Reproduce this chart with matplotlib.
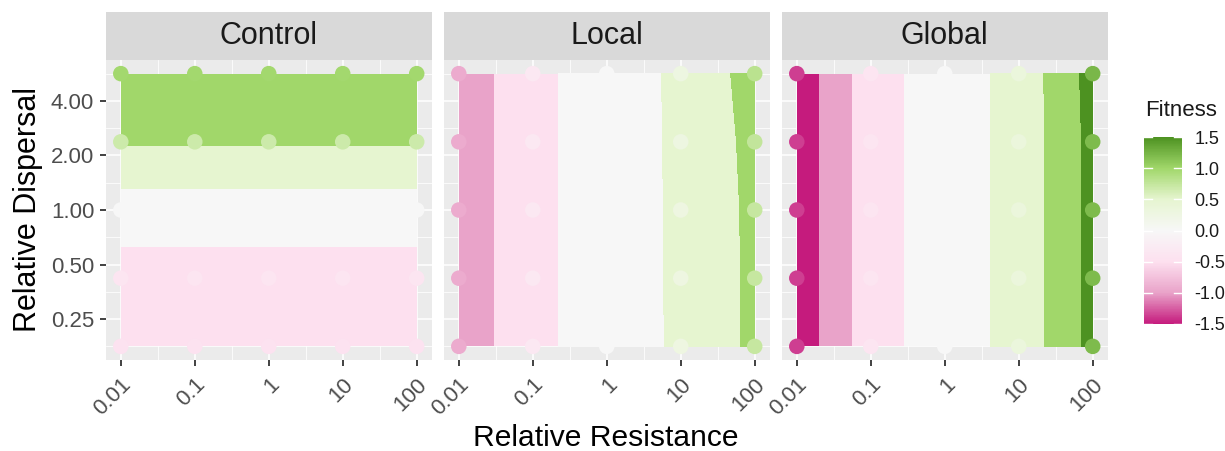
import numpy as np
import matplotlib
matplotlib.use('Agg')
import matplotlib.pyplot as plt
from matplotlib.colors import LinearSegmentedColormap, Normalize
from matplotlib.cm import ScalarMappable

plt.rcParams['font.family'] = ['Liberation Sans', 'DejaVu Sans']

panels = ['Control', 'Local', 'Global']
resistance = [0.01, 0.1, 1, 10, 100]
res_labels = ['0.01', '0.1', '1', '10', '100']
# dispersal grid rows, as log2 position on the dispersal axis (bottom -> top)
dispersal_log2 = [-2.5, -1.25, 0, 1.25, 2.5]
disp_ticks = [0.25, 0.5, 1, 2, 4]
disp_labels = ['0.25', '0.50', '1.00', '2.00', '4.00']

# fitness: rows = dispersal (bottom -> top), cols = resistance (0.01 -> 100)
fit_control = [
    [-0.45, -0.45, -0.45, -0.45, -0.45],
    [-0.39, -0.39, -0.39, -0.39, -0.39],
    [0.00, 0.00, 0.00, 0.00, 0.00],
    [0.68, 0.68, 0.68, 0.68, 0.68],
    [0.98, 0.98, 0.98, 0.98, 0.98],
]
fit_local = [
    [-0.93, -0.33, 0.00, 0.276, 0.727],
    [-0.93, -0.33, 0.00, 0.278, 0.730],
    [-0.93, -0.33, 0.00, 0.280, 0.735],
    [-0.93, -0.33, 0.00, 0.284, 0.760],
    [-0.93, -0.33, 0.00, 0.289, 0.813],
]
fit_global = [
    [-1.37, -0.39, 0.00, 0.343, 1.20],
    [-1.37, -0.39, 0.00, 0.343, 1.20],
    [-1.37, -0.39, 0.00, 0.343, 1.20],
    [-1.37, -0.39, 0.00, 0.343, 1.20],
    [-1.37, -0.39, 0.00, 0.343, 1.23],
]
fitness = [fit_control, fit_local, fit_global]

piyg7 = ['#C51B7D', '#E9A3C9', '#FDE0EF', '#F7F7F7', '#E6F5D0', '#A1D76A', '#4D9221']
levels = np.linspace(-1.5, 1.5, 8)
cmap = LinearSegmentedColormap.from_list('piyg', piyg7)
norm = Normalize(-1.5, 1.5)

W, H = 1225, 451
fig = plt.figure(figsize=(W / 100, H / 100), dpi=100)

def px_axes(x0, y0, x1, y1):
    return fig.add_axes([x0 / W, 1 - y1 / H, (x1 - x0) / W, (y1 - y0) / H])

lefts = [106, 444, 782]
pw = 325.5
ptop, pbot = 60, 360
stop = 12

X, Y = np.meshgrid(np.log10(resistance), dispersal_log2)

for i, name in enumerate(panels):
    x0 = lefts[i]
    ax = px_axes(x0, ptop, x0 + pw, pbot)
    ax.set_facecolor('#EBEBEB')
    Z = np.array(fitness[i])
    ax.contourf(X, Y, Z, levels=levels, colors=piyg7, zorder=2)
    ax.scatter(X.ravel(), Y.ravel(), c=Z.ravel(), cmap=cmap, norm=norm,
               s=125, linewidths=0, zorder=3)
    ax.set_xlim(-2.2, 2.2)
    ax.set_ylim(-2.75, 2.75)
    ax.set_xticks(np.log10(resistance))
    ax.set_xticklabels(res_labels, rotation=45, ha='right', va='top',
                       rotation_mode='anchor')
    ax.set_xticks([-1.5, -0.5, 0.5, 1.5], minor=True)
    ax.set_yticks(np.log2(disp_ticks))
    ax.set_yticks([-2.5, -1.5, -0.5, 0.5, 1.5, 2.5], minor=True)
    if i == 0:
        ax.set_yticklabels(disp_labels)
        ax.tick_params(axis='y', which='major', length=4, width=1.3,
                       color='#333333', labelsize=16, labelcolor='#4D4D4D', pad=4.5)
    else:
        ax.set_yticklabels([])
        ax.tick_params(axis='y', which='major', length=0)
    ax.tick_params(axis='x', which='major', length=4, width=1.3, color='#333333',
                   labelsize=16, labelcolor='#4D4D4D', pad=6)
    ax.tick_params(which='minor', length=0)
    ax.grid(which='major', color='white', lw=1.1, zorder=1)
    ax.grid(which='minor', color='white', lw=0.55, zorder=1)
    ax.set_axisbelow(True)
    for s in ax.spines.values():
        s.set_visible(False)

    sax = px_axes(x0, stop, x0 + pw, ptop)
    sax.set_facecolor('#D9D9D9')
    sax.set_xticks([])
    sax.set_yticks([])
    for s in sax.spines.values():
        s.set_visible(False)
    sax.text(0.5, 0.5, name, ha='center', va='center', fontsize=22,
             color='#1A1A1A', transform=sax.transAxes)

fig.text(28 / W, 1 - 210 / H, 'Relative Dispersal', rotation=90, ha='center',
         va='center', fontsize=22, color='black')
fig.text(606 / W, 1 - 446 / H, 'Relative Resistance', ha='center',
         va='baseline', fontsize=21.6, color='black')

# colour bar
cax = px_axes(1144, 137, 1182, 324)
sm = ScalarMappable(norm=norm, cmap=cmap)
cb = fig.colorbar(sm, cax=cax)
cb.outline.set_visible(False)
cb_ticks = [-1.5, -1.0, -0.5, 0.0, 0.5, 1.0, 1.5]
cb.set_ticks(cb_ticks)
cb.set_ticklabels(['-1.5', '-1.0', '-0.5', '0.0', '0.5', '1.0', '1.5'])
cax.tick_params(length=0, pad=9, labelsize=13, labelcolor='#1A1A1A')
for v in cb_ticks:
    cax.plot([0, 0.2], [v, v], color='white', lw=1,
             transform=cax.get_yaxis_transform())
    cax.plot([0.8, 1], [v, v], color='white', lw=1,
             transform=cax.get_yaxis_transform())
fig.text(1145 / W, 1 - 110.5 / H, 'Fitness', ha='left', va='center',
         fontsize=16, color='#1A1A1A')

fig.savefig('out.png', dpi=100)
